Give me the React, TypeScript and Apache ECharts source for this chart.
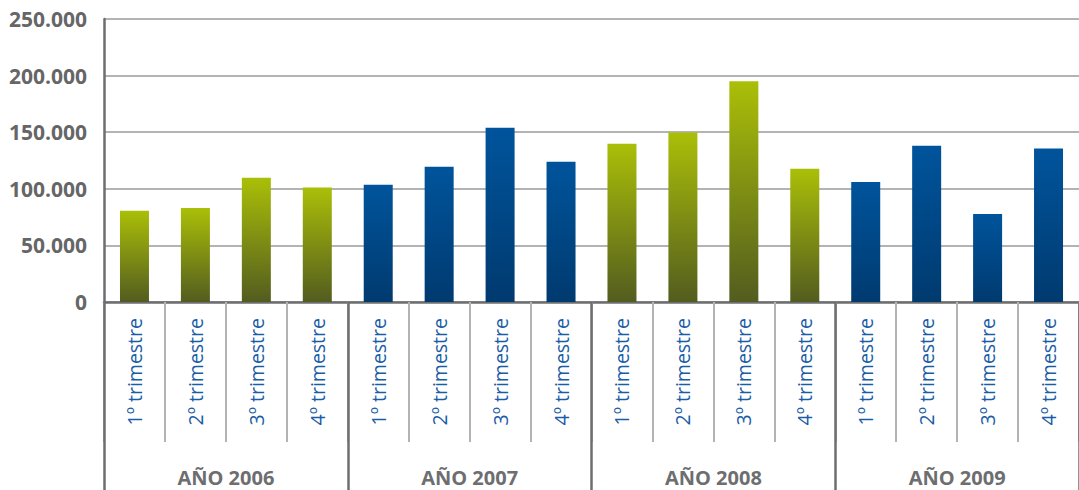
import React, { useEffect, useRef } from "react";
import * as echarts from "echarts";

const quarters = ["1º trimestre", "2º trimestre", "3º trimestre", "4º trimestre"];
const years = ["AÑO 2006", "AÑO 2007", "AÑO 2008", "AÑO 2009"];
const values2006 = [80500, 83000, 109800, 101200];
const values2007 = [103500, 119500, 154000, 124000];
const values2008 = [139900, 149700, 195000, 117800];
const values2009 = [106000, 138000, 77800, 135500];
const yTicks = [0, 50000, 100000, 150000, 200000, 250000];

const greenTop = "#aabf08";
const greenBottom = "#535c1f";
const blueTop = "#00549c";
const blueBottom = "#003a6f";

function fmt(v: number): string {
  if (v === 0) return "0";
  const s = String(Math.round(v));
  return s.replace(/\B(?=(\d{3})+(?!\d))/g, ".");
}

export default function App() {
  const ref = useRef<HTMLDivElement>(null);
  useEffect(() => {
    if (!ref.current) return;
    const chart = echarts.init(ref.current, undefined, { renderer: "svg" });
    const green = new echarts.graphic.LinearGradient(0, 0, 0, 1, [
      { offset: 0, color: greenTop },
      { offset: 1, color: greenBottom },
    ]);
    const blue = new echarts.graphic.LinearGradient(0, 0, 0, 1, [
      { offset: 0, color: blueTop },
      { offset: 1, color: blueBottom },
    ]);
    const groups = [values2006, values2007, values2008, values2009];
    const categories: string[] = [];
    const data: any[] = [];
    groups.forEach((vals, gi) => {
      vals.forEach((v, qi) => {
        categories.push(quarters[qi]);
        data.push({ value: v, itemStyle: { color: gi % 2 === 0 ? green : blue } });
      });
    });
    chart.setOption({
      animation: false,
      grid: { left: 104, right: -7, top: 19, bottom: 188, containLabel: false },
      xAxis: [
        {
          type: "category",
          position: "bottom",
          data: categories,
          boundaryGap: true,
          axisLine: { show: true, lineStyle: { color: "#6d6e70", width: 2.5 } },
          axisTick: {
            show: true,
            interval: 0,
            length: 140,
            lineStyle: { color: "#b3b3b3", width: 2 },
          },
          axisLabel: {
            interval: 0,
            rotate: 90,
            margin: 16,
            color: "#1a5ca6",
            fontSize: 19.5,
            fontFamily: "Open Sans",
          },
          splitLine: { show: false },
        },
        {
          type: "category",
          position: "bottom",
          data: years,
          boundaryGap: true,
          axisLine: { show: false },
          axisTick: {
            show: true,
            interval: 0,
            length: 188,
            lineStyle: { color: "#6d6e70", width: 2.5 },
          },
          axisLabel: {
            interval: 0,
            margin: 165,
            color: "#6d6e70",
            fontSize: 20,
            fontWeight: "bold",
            fontFamily: "Open Sans",
          },
          splitLine: { show: false },
        },
      ],
      yAxis: {
        type: "value",
        min: yTicks[0],
        max: yTicks[yTicks.length - 1],
        interval: 50000,
        axisLine: { show: true, lineStyle: { color: "#6d6e70", width: 2.5 } },
        axisTick: { show: false },
        axisLabel: {
          margin: 17,
          color: "#666666",
          fontSize: 21,
          fontWeight: "bold",
          fontFamily: "Open Sans",
          formatter: (v: number) => fmt(v),
        },
        splitLine: { show: true, lineStyle: { color: "#b3b3b3", width: 2 } },
      },
      series: [
        {
          type: "bar",
          xAxisIndex: 0,
          barWidth: 29,
          data,
        },
      ],
    });
    return () => chart.dispose();
  }, []);
  return (
    <div
      ref={ref}
      style={{ position: "fixed", left: 0, top: 0, width: 1079, height: 490, background: "#ffffff" }}
    />
  );
}
